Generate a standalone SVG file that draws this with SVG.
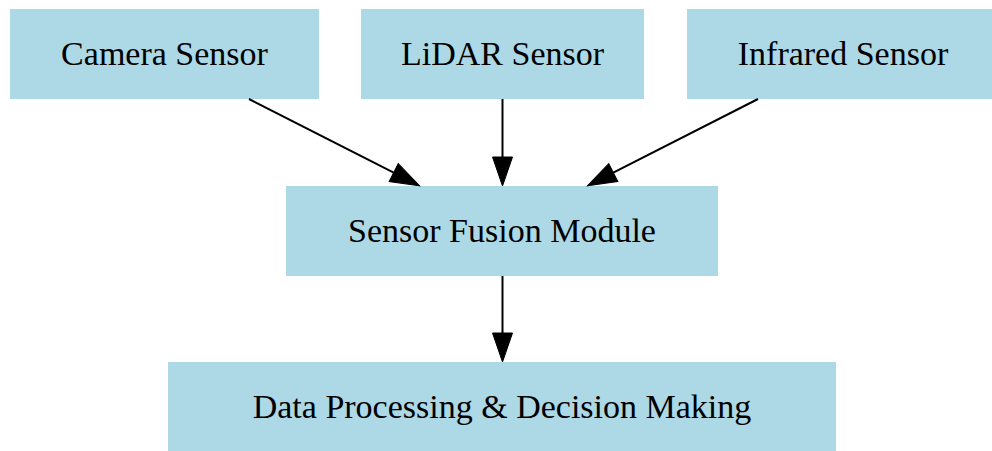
<svg xmlns="http://www.w3.org/2000/svg" width="992" height="451" viewBox="0 0 992 451">
  <defs>
    <style>
      .box { fill: #ADD8E6; stroke: none; }
      .lbl { font-family: "Liberation Serif", "Times New Roman", serif; font-size: 34px; fill: #000; text-anchor: middle; }
      .edge { stroke: #000; stroke-width: 2; fill: none; }
    </style>
    <marker id="arrow" markerUnits="userSpaceOnUse" markerWidth="30" markerHeight="21" refX="0" refY="10" orient="auto" overflow="visible">
      <path d="M0,0 L29,10 L0,20 Z" fill="#000" stroke="#000" stroke-width="1"/>
    </marker>
  </defs>
  <rect width="992" height="451" fill="#fff"/>
  <g id="camera">
    <rect class="box" x="10" y="9" width="309" height="90"/>
    <text class="lbl" x="164.5" y="65">Camera Sensor</text>
  </g>
  <g id="lidar">
    <rect class="box" x="361" y="9" width="283" height="90"/>
    <text class="lbl" x="502.5" y="65">LiDAR Sensor</text>
  </g>
  <g id="infrared">
    <rect class="box" x="687" y="9" width="312" height="90"/>
    <text class="lbl" x="843" y="65">Infrared Sensor</text>
  </g>
  <g id="fusion">
    <rect class="box" x="286" y="186" width="432" height="90"/>
    <text class="lbl" x="502" y="242">Sensor Fusion Module</text>
  </g>
  <g id="decision">
    <rect class="box" x="168" y="362" width="668" height="89"/>
    <text class="lbl" x="502" y="418">Data Processing &amp; Decision Making</text>
  </g>
  <g id="connectors">
    <line class="edge" x1="249" y1="99" x2="393.7" y2="172.6" marker-end="url(#arrow)"/>
    <line class="edge" x1="502.5" y1="99" x2="502.5" y2="157" marker-end="url(#arrow)"/>
    <line class="edge" x1="758" y1="99" x2="613.3" y2="172.6" marker-end="url(#arrow)"/>
    <line class="edge" x1="502.5" y1="276" x2="502.5" y2="333" marker-end="url(#arrow)"/>
  </g>
</svg>
